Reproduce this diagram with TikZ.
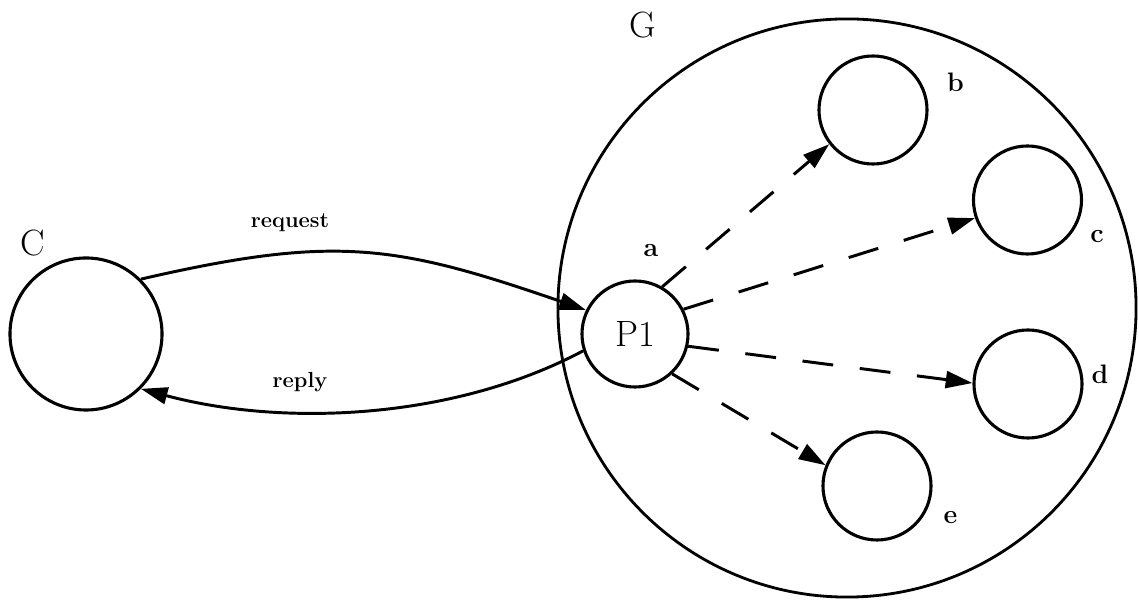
\documentclass[tikz,border=0pt]{standalone}
\usepackage{fontspec}
\usetikzlibrary{arrows.meta}
\begin{document}
\begin{tikzpicture}[x=0.025cm,y=0.025cm,
  proc/.style={draw,circle,line width=2.2pt,inner sep=0pt},
  lab/.style={font=\fontsize{19}{21}\selectfont\bfseries,inner sep=0pt},
  arclab/.style={font=\fontsize{15.5}{18}\selectfont\bfseries,inner sep=0pt},
  big/.style={font=\fontsize{26}{29}\selectfont},
  msg/.style={line width=2.1pt,-{Triangle[length=19pt,width=12pt]}},
  fan/.style={msg,dash pattern=on 22pt off 19pt}]
\useasboundingbox (0,0) rectangle (1139,603);
\node[proc,line width=2pt,minimum size=14.45cm] (G) at (847,295) {};
\node[proc,minimum size=3.8cm] (C) at (86,269) {};
\node[proc,minimum size=2.65cm,big] (P1) at (635,269) {P1};
\node[proc,minimum size=2.7cm] (b) at (873,493) {};
\node[proc,minimum size=2.7cm] (c) at (1027.5,403) {};
\node[proc,minimum size=2.7cm] (d) at (1028,219) {};
\node[proc,minimum size=2.7cm] (e) at (877,117) {};
\node[big,inner sep=0pt] (Gl) at (643,578) {G};
\node[big,inner sep=0pt] (Cl) at (33,360) {C};
\node[lab] (al) at (651,352) {a};
\node[lab] (bl) at (955.5,520.5) {b};
\node[lab] (cl) at (1097,366) {c};
\node[lab] (dl) at (1100,229) {d};
\node[lab] (el) at (950.5,85) {e};
\node[arclab] (req) at (290,380) {request};
\node[arclab] (rep) at (300,221) {reply};
\draw[msg] (C.45) to[out=13,in=161,looseness=1.15] (P1.154);
\draw[msg] (P1.198) to[out=208,in=345,looseness=0.85] (C.315);
\draw[fan] (P1.60) -- (b.218);
\draw[fan] (P1.27) -- (c.199);
\draw[fan] (P1.347) -- (d.179);
\draw[fan] (P1.313) -- (e.158);
\end{tikzpicture}
\end{document}
